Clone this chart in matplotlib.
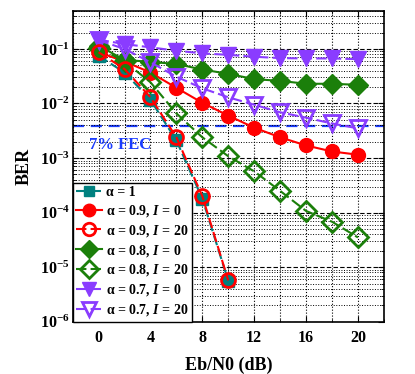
import matplotlib
matplotlib.use("Agg")
import matplotlib.pyplot as plt
from matplotlib.ticker import LogLocator, MultipleLocator, NullFormatter

plt.rcParams['font.family'] = ['Liberation Serif', 'DejaVu Serif']
plt.rcParams['font.weight'] = 'bold'
plt.rcParams['mathtext.fontset'] = 'custom'
plt.rcParams['mathtext.rm'] = 'Liberation Serif:bold'
plt.rcParams['mathtext.it'] = 'Liberation Serif:italic:bold'
plt.rcParams['mathtext.bf'] = 'Liberation Serif:bold'

# данные
ebn0_short = [0, 2, 4, 6, 8, 10]
ebn0 = [0, 2, 4, 6, 8, 10, 12, 14, 16, 18, 20]

ber_a1 = [0.075, 0.037, 0.0117, 0.0021, 1.8e-4, 5.6e-6]
ber_a09_i0 = [0.087, 0.059, 0.037, 0.0194, 0.0103, 0.0060, 0.0036, 0.0024, 0.0017, 0.00132, 0.00115]
ber_a09_i20 = [0.087, 0.043, 0.013, 0.0024, 2.0e-4, 5.7e-6]
ber_a08_i0 = [0.115, 0.063, 0.058, 0.053, 0.042, 0.035, 0.028, 0.026, 0.023, 0.023, 0.022]
ber_a08_i20 = [0.105, 0.059, 0.0245, 0.0066, 0.0024, 0.00108, 5.7e-4, 2.5e-4, 1.07e-4, 6.8e-5, 3.5e-5]
ber_a07_i0 = [0.148, 0.123, 0.107, 0.093, 0.083, 0.078, 0.072, 0.068, 0.067, 0.067, 0.065]
ber_a07_i20 = [0.145, 0.1, 0.057, 0.031, 0.019, 0.013, 0.0095, 0.0069, 0.0055, 0.0043, 0.0035]

fec_limit = 3.8e-3

teal = '#00807f'
red = '#ff0000'
green = '#1b7f0a'
purple = '#8a3cff'
blue = '#1a3cff'

fig = plt.figure(figsize=(4.15, 3.74), dpi=100)
ax = fig.add_axes([0.175, 0.14, 0.75, 0.831])

ax.axhline(fec_limit, color=blue, ls=(0, (5, 3)), lw=1.6, zorder=1)

ax.plot(ebn0_short, ber_a1, color=teal, ls=(0, (5, 2)), lw=1.5, marker='s', ms=8.5,
        label='α = 1', zorder=3)
ax.plot(ebn0, ber_a09_i0, color=red, ls='-', lw=1.5, marker='o', ms=10,
        label='α = 0.9, $\\mathit{I}$ = 0', zorder=3)
ax.plot(ebn0_short, ber_a09_i20, color=red, ls=(0, (5, 2)), lw=1.5, marker='o', ms=10,
        mfc='none', mew=2, label='α = 0.9, $\\mathit{I}$ = 20', zorder=4)
ax.plot(ebn0, ber_a08_i0, color=green, ls='-', lw=1.5, marker='D', ms=10,
        label='α = 0.8, $\\mathit{I}$ = 0', zorder=3)
ax.plot(ebn0, ber_a08_i20, color=green, ls=(0, (5, 2)), lw=1.5, marker='D', ms=10,
        mfc='none', mew=2, label='α = 0.8, $\\mathit{I}$ = 20', zorder=3)
ax.plot(ebn0, ber_a07_i0, color=purple, ls=(0, (5, 2)), lw=1.5, marker='v', ms=11,
        label='α = 0.7, $\\mathit{I}$ = 0', zorder=3)
ax.plot(ebn0, ber_a07_i20, color=purple, ls=(0, (5, 2)), lw=1.5, marker='v', ms=11,
        mfc='none', mew=2, label='α = 0.7, $\\mathit{I}$ = 20', zorder=3)

ax.text(-0.7, 0.0017, '7% FEC', color=blue, fontsize=12, fontweight='bold',
        ha='left', va='center')

ax.set_yscale('log')
ax.set_xlim(-2, 22)
ax.set_ylim(1e-6, 0.5)
ax.xaxis.set_major_locator(MultipleLocator(4))
ax.xaxis.set_minor_locator(MultipleLocator(2))
ax.yaxis.set_major_locator(LogLocator(base=10, numticks=10))
ax.yaxis.set_minor_locator(LogLocator(base=10, subs=range(2, 10), numticks=20))
ax.yaxis.set_minor_formatter(NullFormatter())

ax.grid(True, which='major', axis='y', ls=(0, (4, 2)), color='k', lw=0.8)
ax.grid(True, which='minor', axis='y', ls=':', color='k', lw=0.7)
ax.grid(True, which='both', axis='x', ls=':', color='k', lw=0.8)

ax.tick_params(which='both', direction='in', top=True, right=True)
ax.tick_params(which='major', length=4, labelsize=11.5)
ax.tick_params(axis='x', which='major', pad=6)
ax.tick_params(axis='y', which='major', pad=2)
ax.tick_params(which='minor', length=2)
for s in ax.spines.values():
    s.set_linewidth(1.2)

ax.set_xlabel('Eb/N0 (dB)', fontsize=13, fontweight='bold', labelpad=8)
ax.set_ylabel('BER', fontsize=13, fontweight='bold', labelpad=5)

leg = ax.legend(loc='lower left', borderaxespad=0, fontsize=10, fancybox=False,
                framealpha=1, edgecolor='k', handlelength=1.9, handletextpad=0.25,
                labelspacing=0.28, borderpad=0.25, markerscale=0.9)
leg.get_frame().set_linewidth(1.0)
leg.set_zorder(5)

fig.savefig('out.png', dpi=100)
